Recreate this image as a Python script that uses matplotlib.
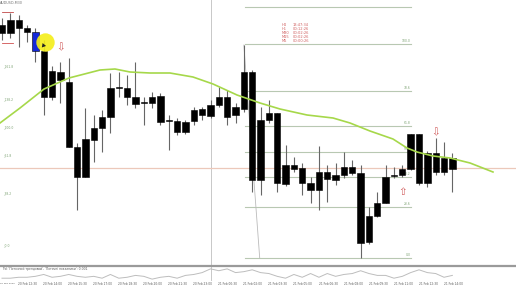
import matplotlib
matplotlib.use("Agg")
import matplotlib.pyplot as plt
import numpy as np

# AUDUSD M30, 20-21 Feb 2020
opens = [0.66467, 0.66467, 0.66480, 0.66472, 0.66468, 0.66449, 0.66403, 0.66428, 0.66418, 0.66353,
         0.66323, 0.66360, 0.66372, 0.66383, 0.66412, 0.66412, 0.66403, 0.66397, 0.66397, 0.66404,
         0.66379, 0.66379, 0.66368, 0.66379, 0.66385, 0.66384, 0.66395, 0.66403, 0.66385, 0.66391,
         0.66428, 0.66320, 0.66380, 0.66387, 0.66316, 0.66335, 0.66332, 0.66317, 0.66310, 0.66328,
         0.66320, 0.66325, 0.66333, 0.66327, 0.66258, 0.66284, 0.66297, 0.66324, 0.66325, 0.66331,
         0.66366, 0.66317, 0.66347, 0.66328, 0.66342]
highs = [0.66482, 0.66487, 0.66485, 0.66475, 0.66472, 0.66460, 0.66434, 0.66438, 0.66442, 0.66357,
         0.66392, 0.66385, 0.66390, 0.66427, 0.66428, 0.66425, 0.66438, 0.66403, 0.66408, 0.66407,
         0.66385, 0.66382, 0.66380, 0.66393, 0.66393, 0.66400, 0.66413, 0.66410, 0.66397, 0.66455,
         0.66430, 0.66393, 0.66400, 0.66387, 0.66355, 0.66343, 0.66337, 0.66323, 0.66354, 0.66335,
         0.66337, 0.66348, 0.66340, 0.66335, 0.66293, 0.66308, 0.66335, 0.66333, 0.66335, 0.66366,
         0.66366, 0.66349, 0.66362, 0.66358, 0.66347]
lows = [0.66460, 0.66462, 0.66453, 0.66458, 0.66438, 0.66385, 0.66400, 0.66397, 0.66353, 0.66290,
        0.66323, 0.66338, 0.66348, 0.66367, 0.66403, 0.66395, 0.66392, 0.66375, 0.66392, 0.66375,
        0.66350, 0.66365, 0.66366, 0.66375, 0.66380, 0.66382, 0.66393, 0.66375, 0.66377, 0.66388,
        0.66308, 0.66305, 0.66377, 0.66308, 0.66314, 0.66328, 0.66305, 0.66297, 0.66290, 0.66298,
        0.66315, 0.66322, 0.66325, 0.66242, 0.66256, 0.66283, 0.66297, 0.66322, 0.66323, 0.66330,
        0.66315, 0.66313, 0.66325, 0.66325, 0.66308]
closes = [0.66475, 0.66480, 0.66472, 0.66468, 0.66449, 0.66403, 0.66429, 0.66420, 0.66353, 0.66323,
          0.66361, 0.66372, 0.66383, 0.66412, 0.66412, 0.66403, 0.66396, 0.66397, 0.66403, 0.66378,
          0.66379, 0.66368, 0.66378, 0.66390, 0.66391, 0.66395, 0.66403, 0.66383, 0.66393, 0.66428,
          0.66320, 0.66380, 0.66387, 0.66317, 0.66335, 0.66331, 0.66317, 0.66310, 0.66328, 0.66321,
          0.66325, 0.66333, 0.66327, 0.66257, 0.66284, 0.66297, 0.66323, 0.66324, 0.66331, 0.66366,
          0.66317, 0.66347, 0.66328, 0.66342, 0.66331]

# moving average (shifted forward, so it runs past the last bar)
ma_x = [-0.24, 2.16, 5.04, 8.03, 11.75, 13.55, 15.35, 17.75, 20.14, 22.9, 25.3, 28.18, 30.94,
        33.33, 36.57, 39.69, 41.73, 44.12, 46.88, 48.56, 49.76, 51.68, 53.72, 56.12, 58.87]
ma_y = [0.66377, 0.66392, 0.66411, 0.66422, 0.66430, 0.66431, 0.66428, 0.66427, 0.66427, 0.66423,
        0.66416, 0.66405, 0.66397, 0.66391, 0.66385, 0.66382, 0.66377, 0.66369, 0.66361, 0.66352,
        0.66348, 0.66344, 0.66342, 0.66337, 0.66328]

# fibo levels
fib_prices = [0.66493, 0.66456, 0.66409, 0.66374, 0.66348, 0.66323, 0.66293, 0.66242]
fib_labels = ["", "100.0", "78.6", "61.8", "50.0", "38.2", "23.6", "0.0"]
left_prices = [0.66434, 0.66401, 0.66373, 0.66345, 0.66307, 0.66255]
left_labels = ["161.8", "138.2", "100.0", "61.8", "38.2", "0.0"]

# sub-window oscillator
osc = [3, 3, 4, 4, 5, 7, 4, 5, 7, 5, 4, 5, 3, 7, 3, 4, 6, 5, 2, 4,
       5, 3, 6, 7, 9, 13, 11, 13, 9, 10, 12, 9, 8, 5, 3, 7, 4, 8, 4, 8,
       5, 7, 8, 11, 8, 6, 6, 3, 5, 9, 12, 9, 8, 4, 6]

time_idx = [-1, 2, 5, 8, 11, 14, 17, 20, 23, 26, 29, 32, 35, 38, 41, 44, 47, 50, 53]
time_labels = ["20 Feb 2020", "20 Feb 12:30", "20 Feb 14:00", "20 Feb 15:30", "20 Feb 17:00",
               "20 Feb 18:30", "20 Feb 20:00", "20 Feb 21:30", "20 Feb 23:00", "21 Feb 00:30",
               "21 Feb 02:00", "21 Feb 03:30", "21 Feb 05:00", "21 Feb 06:30", "21 Feb 08:00",
               "21 Feb 09:30", "21 Feb 11:00", "21 Feb 12:30", "21 Feb 14:00"]

timer_tf = ["H4", "H1", "M30", "M15", "M5"]
timer_txt = ["13:47:34", "00:12:26", "00:02:26", "00:02:26", "00:00:26"]

W, H = 516, 289
fig = plt.figure(figsize=(W / 100, H / 100), dpi=100)
fig.patch.set_facecolor("white")

xlim = (-2 / 8.34, (W - 2) / 8.34)
ax = fig.add_axes([0, 24 / H, 1, 265 / H])
ax.set_xlim(*xlim)
ax.set_ylim(0.66235, 0.66500)
ax.axis("off")

n = len(opens)
x = np.arange(n)
o = np.array(opens)
c = np.array(closes)
bot = np.minimum(o, c)
hgt = np.maximum(np.abs(c - o), 0.000012)

# separators / reference lines
ax.axvline(25, color="#c8c8c8", lw=0.7, zorder=1)
ax.axhline(0.66332, color="#ecc8ba", lw=0.9, zorder=1)
ax.plot([0, 1.3], [0.66488, 0.66488], color="#c04848", lw=0.6, zorder=1)
ax.plot([0, 1.3], [0.66457, 0.66457], color="#d05050", lw=0.6, zorder=1)

for p, lab in zip(fib_prices, fib_labels):
    ax.plot([29.1, 49.0], [p, p], color="#b8c8b2", lw=0.8, zorder=1)
    if lab:
        ax.text(49.0, p + 0.000008, lab, fontsize=2.2, color="#7aa070",
                ha="right", va="bottom", zorder=2)
ax.plot([29.0, 30.9], [0.66455, 0.66242], color="#bbbbbb", lw=0.6, zorder=1)

for p, lab in zip(left_prices, left_labels):
    ax.text(0.15, p, "_" + lab, fontsize=2.2, color="#7aa070", ha="left", va="center")

# candles
ax.vlines(x, lows, highs, color="#666666", lw=0.8, zorder=3)
colors = ["black"] * n
colors[4] = "#1428d8"
ax.bar(x, hgt, bottom=bot, width=0.76, color=colors, edgecolor="black", lw=0.4, zorder=4)

ax.plot(ma_x, ma_y, color="#a6d84a", lw=1.2, zorder=5)

# highlight + cursor
ax.scatter([5.16], [0.66458], s=175, color="#f4ee18", alpha=0.9, zorder=6, lw=0)
ax.scatter([4.95], [0.66455], s=14, marker=(3, 0, 20), color="#222222", zorder=7, lw=0)

# signal arrows
ax.text(7, 0.66453, "\u21e9", fontsize=7.5, color="#d05a5a", ha="center", va="center", zorder=7)
ax.text(52, 0.66368, "\u21e9", fontsize=7.5, color="#d05a5a", ha="center", va="center", zorder=7)
ax.text(48, 0.66308, "\u21e7", fontsize=7.5, color="#d05a5a", ha="center", va="center", zorder=7)

# timer block
for k, (tf, tt) in enumerate(zip(timer_tf, timer_txt)):
    yy = 0.66475 - k * 0.00004
    ax.text(33.5, yy, tf, fontsize=2.6, color="#d06060", ha="left", va="center")
    ax.text(34.9, yy, tt, fontsize=2.6, color="#d06060", ha="left", va="center")

ax.text(xlim[0] + 0.05, 0.66499, "AUDUSD,M30", fontsize=2.4, color="#777777", ha="left", va="top")

# separator band
fig.add_artist(plt.Line2D([0, 1], [1 - 265.5 / H, 1 - 265.5 / H], color="#9a9a9a", lw=1.6))

# sub window
ax2 = fig.add_axes([0, 8 / H, 1, 14 / H])
ax2.set_xlim(*xlim)
ax2.set_ylim(0, 15)
ax2.axis("off")
ax2.axvline(25, color="#c8c8c8", lw=0.7)
ax2.plot(x, osc, color="#bdbdbd", lw=0.7)
ax2.text(0.003, 0.85, "Trd: 'Поточний трендовий', 'Поточні показники': 0.001",
         transform=ax2.transAxes, fontsize=2.2, color="#555555", ha="left", va="center")

for xi, lab in zip(time_idx, time_labels):
    if xi < 0:
        ax2.text(xlim[0] + 0.02, -3.2, lab, fontsize=1.7, color="#555555", ha="left",
                 va="center", clip_on=False)
    else:
        ax2.text(xi - 0.05, -3.2, lab, fontsize=2.1, color="#555555", ha="left", va="center",
                 clip_on=False)

fig.savefig("out.png", dpi=100)
